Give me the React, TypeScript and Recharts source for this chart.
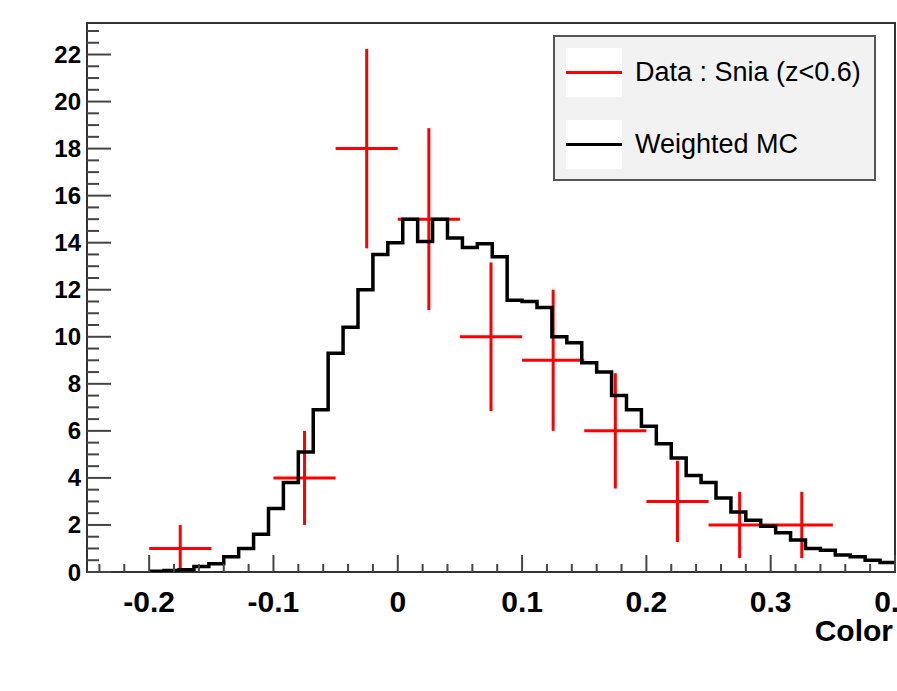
import React from 'react';
import { ComposedChart, Line, Scatter, ErrorBar, XAxis, YAxis, ReferenceArea, Legend } from 'recharts';

// ---- Data ----
const binEdges = [
  -0.2, -0.188, -0.176, -0.164, -0.152, -0.14, -0.128, -0.116, -0.104, -0.092,
  -0.08, -0.068, -0.056, -0.044, -0.032, -0.02, -0.008, 0.004, 0.016, 0.028,
  0.04, 0.052, 0.064, 0.076, 0.088, 0.1, 0.112, 0.124, 0.136, 0.148,
  0.16, 0.172, 0.184, 0.196, 0.208, 0.22, 0.232, 0.244, 0.256, 0.268,
  0.28, 0.292, 0.304, 0.316, 0.328, 0.34, 0.352, 0.364, 0.376, 0.388, 0.4,
];
const mcValues = [
  0.03, 0.06, 0.1, 0.23, 0.35, 0.65, 1.0, 1.6, 2.7, 3.8,
  5.1, 6.9, 9.3, 10.4, 12.0, 13.5, 14.0, 15.0, 14.05, 15.0,
  14.2, 13.8, 13.95, 13.4, 11.55, 11.5, 11.25, 10.0, 9.75, 8.9,
  8.5, 7.5, 6.9, 6.2, 5.45, 4.85, 4.1, 3.8, 3.15, 2.55,
  2.2, 1.95, 1.67, 1.36, 1.0, 0.93, 0.72, 0.65, 0.5, 0.4,
];
const dataX = [-0.175, -0.075, -0.025, 0.025, 0.075, 0.125, 0.175, 0.225, 0.275, 0.325];
const dataY = [1, 4, 18, 15, 10, 9, 6, 3, 2, 2];
const dataYErr = [1, 2, 4.24, 3.87, 3.16, 3, 2.45, 1.73, 1.41, 1.41];
const dataXErr = [0.025, 0.025, 0.025, 0.025, 0.025, 0.025, 0.025, 0.025, 0.025, 0.025];

const xMajorTicks = [-0.2, -0.1, 0, 0.1, 0.2, 0.3, 0.4];
const xTickLabels = ['-0.2', '-0.1', '0', '0.1', '0.2', '0.3', '0.4'];
const yMajorTicks = [0, 2, 4, 6, 8, 10, 12, 14, 16, 18, 20, 22];
const yTickLabels = ['0', '2', '4', '6', '8', '10', '12', '14', '16', '18', '20', '22'];

const X_DOMAIN: [number, number] = [-0.25, 0.4];
const Y_DOMAIN: [number, number] = [0, 23.34];

const mcData = binEdges.map((x, i) => ({ x, y: mcValues[Math.min(i, mcValues.length - 1)] }));
const pointData = dataX.map((x, i) => ({ x, y: dataY[i], ex: dataXErr[i], ey: dataYErr[i] }));

// tick positions (minor + major)
const xTicks: number[] = [];
for (let i = 0; i <= 32; i++) xTicks.push(Math.round((-0.24 + 0.02 * i) * 1000) / 1000);
const yTicks: number[] = [];
for (let i = 0; i <= 46; i++) yTicks.push(i * 0.5);

const FONT = "'Liberation Sans', Arial, Helvetica, sans-serif";
const TICK_COLOR = '#444';
const Y_MARGIN = 6;
const X_MARGIN = 0;

const YTick = (props: any) => {
  const { x, y, payload } = props;
  const v = payload.value;
  const axisX = x + Y_MARGIN;
  const idx = yMajorTicks.findIndex((m) => Math.abs(m - v) < 1e-6);
  const major = idx >= 0;
  return (
    <g>
      <line x1={axisX} x2={axisX + (major ? 24 : 12)} y1={y} y2={y} stroke={TICK_COLOR} strokeWidth={2} />
      {major && (
        <text x={x} y={y} dy={8.5} textAnchor="end" fontFamily={FONT} fontWeight="bold" fontSize={24} fill="#000">
          {yTickLabels[idx]}
        </text>
      )}
    </g>
  );
};

const XTick = (props: any) => {
  const { x, y, payload } = props;
  const v = payload.value;
  const axisY = y - X_MARGIN;
  const idx = xMajorTicks.findIndex((m) => Math.abs(m - v) < 1e-6);
  const major = idx >= 0;
  return (
    <g>
      <line x1={x} x2={x} y1={axisY} y2={axisY - (major ? 17 : 8)} stroke={TICK_COLOR} strokeWidth={2} />
      {major && (
        <text x={x} y={axisY + 40} textAnchor="middle" fontFamily={FONT} fontWeight="bold" fontSize={30} fill="#000">
          {xTickLabels[idx]}
        </text>
      )}
    </g>
  );
};

const ColorLabel = (props: any) => {
  const vb = props.viewBox || {};
  return (
    <text x={vb.x + vb.width - 2} y={vb.y + 69} textAnchor="end" fontFamily={FONT} fontWeight="bold" fontSize={30} fill="#000">
      Color
    </text>
  );
};

const EmptyShape = () => <g />;

const LegendBox = (props: any) => {
  const payload: any[] = props.payload || [];
  const order = ['Data : Snia (z<0.6)', 'Weighted MC'];
  const items = [...payload].sort((a, b) => order.indexOf(a.value) - order.indexOf(b.value));
  return (
    <div
      style={{
        width: 323,
        height: 146,
        background: '#f2f2f2',
        border: '2px solid #555',
        boxSizing: 'border-box',
        position: 'relative',
        fontFamily: FONT,
      }}
    >
      {items.map((e, i) => (
        <div
          key={e.value}
          style={{ position: 'absolute', left: 11, top: 11 + i * 72, height: 49, display: 'flex', alignItems: 'center' }}
        >
          <div style={{ width: 56, height: 49, background: '#fff', position: 'relative' }}>
            <div style={{ position: 'absolute', left: 0, right: 0, top: 23, height: 3, background: e.color }} />
          </div>
          <span style={{ marginLeft: 13, fontSize: 27, color: '#000', whiteSpace: 'nowrap' }}>{e.value}</span>
        </div>
      ))}
    </div>
  );
};

export default function App() {
  return (
    <div style={{ position: 'absolute', left: 0, top: 0, width: 897, height: 691, background: '#fff' }}>
      <ComposedChart width={897} height={691} margin={{ top: 23, right: 2, bottom: 0, left: 0 }}>
        <XAxis
          type="number"
          dataKey="x"
          domain={X_DOMAIN}
          allowDataOverflow
          ticks={xTicks}
          interval={0}
          tickSize={0}
          tickMargin={X_MARGIN}
          axisLine={false}
          tickLine={false}
          tick={<XTick />}
          height={119}
          label={<ColorLabel />}
        />
        <YAxis
          type="number"
          dataKey="y"
          domain={Y_DOMAIN}
          allowDataOverflow
          ticks={yTicks}
          interval={0}
          tickSize={0}
          tickMargin={Y_MARGIN}
          axisLine={false}
          tickLine={false}
          tick={<YTick />}
          width={87}
        />
        <ReferenceArea
          x1={X_DOMAIN[0]}
          x2={X_DOMAIN[1]}
          y1={Y_DOMAIN[0]}
          y2={Y_DOMAIN[1]}
          fill="none"
          fillOpacity={0}
          stroke="#333"
          strokeWidth={2}
        />
        <Scatter
          name="Data : Snia (z<0.6)"
          data={pointData}
          fill="#ff0000"
          shape={<EmptyShape />}
          isAnimationActive={false}
        >
          <ErrorBar dataKey="ex" direction="x" width={0} stroke="#ff0000" strokeWidth={3} />
          <ErrorBar dataKey="ey" direction="y" width={0} stroke="#ff0000" strokeWidth={3} />
        </Scatter>
        <Line
          name="Weighted MC"
          data={mcData}
          dataKey="y"
          type="stepAfter"
          stroke="#000"
          strokeWidth={3.5}
          dot={false}
          activeDot={false}
          isAnimationActive={false}
        />
        <Legend
          layout="horizontal"
          verticalAlign="middle"
          align="center"
          content={<LegendBox />}
          wrapperStyle={{ position: 'absolute', left: 553, top: 35, width: 323, height: 146 }}
        />
      </ComposedChart>
    </div>
  );
}
